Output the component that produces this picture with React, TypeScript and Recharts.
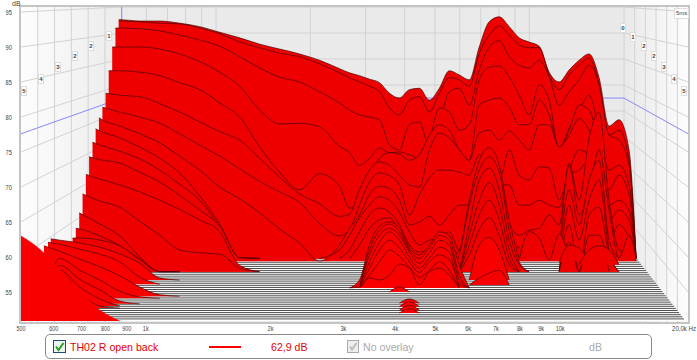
import { ComposedChart, Area, XAxis, YAxis } from "recharts";

const _ = null;

// frequency columns shared by every slice (Hz), read along the front axis
const freqs = [
  555, 620, 693, 775, 866, 967, 1081, 1207, 1350, 1508, 1685, 1883, 2103, 2350, 2626, 2934,
  3102, 3279, 3466, 3664, 3873, 4093, 4327, 4574, 4835, 5111,
  5402, 5710, 6036, 6380, 6744, 7129, 7535, 7965, 8420, 8900,
  9408, 9945, 10512, 11112, 11746, 12416, 13124, 13873, 14664,
];

const tickFreqs = [500, 600, 700, 800, 900, 1000, 2000, 3000, 4000, 5000, 6000, 7000, 8000, 9000, 10000, 20000];
const tickLabels = ["500", "600", "700", "800", "900", "1k", "2k", "3k", "4k", "5k", "6k", "7k", "8k", "9k", "10k", "20,0k Hz"];
const dbTicks = [55, 60, 65, 70, 75, 80, 85, 90, 95];
const backGridFreqs = [600, 700, 800, 900, 1000, 2000, 3000, 4000, 5000, 6000, 7000, 8000, 9000, 10000];

// back to front, dB as read against the axis
const s0 = [_, _, _, _, 93.9, 93.7, 93.7, 93.4, 92.9, 92.1, 91.3, 90.4, 89.7, 89, 88.1, 86.9,
  86.3, 85.9, 85.4, 84.9, 83.4, 82.7, 83.9, 84.1, 82.4, 84.1, 86.6, 86, 85.3, 90, 93.6, 94.3, 92.9, 91.3, 90.7, 90.1,
  86.4, 85, 86.7, 88.1, 89, 85.6, 78.7, 79.6, 75.3];
const sb = [_, _, _, _, 93.7, 93.6, 93.4, 93.3, 92.7, 91.9, 90.7, 89.9, 89.1, 88.6, 87.6, 86.3,
  85.6, 85, 84.4, 83.6, 81.3, 80.3, 82.4, 82.9, 80.7, 83.4, 85.6, 85.3, 84.4, 89.1, 91.7, 93, 91.7, 90.3, 89.9, 89.9,
  86, 83.9, 86, 87.4, 88.4, 84.6, 77.4, 78.1, 73.9];
const s1 = [_, _, _, _, 92.7, 92.6, 92.3, 91.7, 91, 90.1, 88.6, 87, 85.7, 85, 83.6, 82,
  81, 80.3, 80, 79.6, 76, 75.3, 78.9, 79.3, 75.6, 78.9, 83.6, 84.1, 81.7, 86.7, 90, 90.9, 88.6, 87.4, 87, 88.1,
  85.7, 81.7, 83.6, 85.3, 87.4, 84.6, 77.4, 76.7, 73.1];
const s2 = [_, _, _, _, 90, 90, 89.7, 89, 87.9, 86.4, 84.4, 81, 79, 79.1, 78.6, 75.8,
  74.9, 73.1, 74.1, 75.6, 74.9, 75, 74.6, 74.1, 76.7, 81.3, 80.7, 78.1, 78.9, 85.3, 87.1, 87.3, 85.7, 83.1, 80.3, 84.6,
  82.4, 75.3, 78.4, 81, 83.1, 78.1, 72.4, 73.1, 70.3];
const s3 = [_, _, _, _, 86.6, 86.4, 85.9, 84.9, 83.9, 82, 80, 75.7, 72.1, 69.6, 71.9, 70.1,
  67, 67.4, 71.3, 74.1, 74.9, 74.7, 73.8, 74.6, 77.4, 78.9, 78.1, 75.3, 73.8, 81.7, 82.4, 82.7, 81.4, 78.9, 78.9, 82.4,
  80.3, 75.7, 78.1, 81.7, 81, 76, 69.6, 71.7, 68.9];
const s4 = [_, _, _, _, 83.1, 82.9, 81.9, 80.7, 79.3, 77.9, 76.7, 74.1, 71.4, 69, 67.6, 65.8,
  66.1, 69.6, 72.4, 73.6, 73.1, 71.7, 70.3, 70, 75.3, 77.7, 77, 75.3, 73.8, 77.7, 78.1, 76.7, 78, 76.7, 75.3, 78.9,
  78.9, 75.7, 77.4, 79.8, 78.1, 74.6, 67.4, 68.1, 66.7];
const s5 = [_, _, _, _, 80.7, 80, 79.1, 77.6, 76, 74.4, 72.6, 70.8, 69.3, 67.8, 64.8, 63,
  63.9, 67.4, 70.7, 72, 71.6, 70.3, 66, 68.9, 71.3, 72.4, 72.4, 72.1, 71.7, 74.6, 72.4, 71, 75.3, 71.7, 71, 72.9,
  72.7, 68.1, 72.4, 75.3, 74.6, 73.1, 65.3, 66.7, 65.3];
const s6 = [_, _, _, 79.8, 78.7, 77.6, 76.3, 74.4, 72.4, 70, 68.3, 66.3, 64, 62, 59.4, 61.7,
  64.1, 66, 68.9, 70.1, 69.8, 68.1, 64.6, 65, 65.8, 64.6, 66, 67.4, 67.4, 71.7, 71.3, 70.3, 70.3, 67.4, 67.4, 68.1,
  67.4, 67.1, 71.7, 72.4, 73.8, 71, 62.4, 64.6, 62.7];
const s7 = [_, _, _, 78, 77, 75.7, 74.1, 72, 68.7, 64.7, 59.9, _, _, _, _, 61,
  63.1, 65.6, 67.4, 68.6, 68.1, 66.4, 63.6, 61.7, 62.4, 62.8, 63.6, 61, 63.8, 69.6, 71, 68.1, 64.6, 63.1, 63.8, 64.1,
  66, 64.6, 73.4, 68.1, 77, 80.7, 68.1, 61, 60.3];
const s8 = [_, _, _, 76, 75.1, 74, 72.4, 70.4, 68.1, 64.3, 59.9, _, _, _, _, _,
  61, 63.6, 66, 67, 66.4, 64.6, 61.7, 60.7, 61, 61.4, 61.7, 60.3, 63.1, 68.1, 69.6, 66.7, 62.4, 61.3, _, _,
  _, _, 73.1, 66, 69.6, 75.3, 66.7, 59.9, 63.1];
const s9 = [_, _, _, 73.9, 73.4, 72.1, 70.7, 68.8, 66.7, 64.4, 59.9, _, _, _, _, _,
  _, 61.7, 64.1, 65.3, 65.6, 63.6, 61, _, _, _, _, 61, 68.1, 73.8, 75.6, 73.1, 65.3, _, _, _,
  _, _, 69.6, 64.6, 71, 73.8, 62.4];
const s10 = [_, _, _, 71.1, 70.3, 69.3, 68.1, 66.8, 65.3, 63.6, 58.8, _, _, _, _, _,
  _, _, _, _, _, _, _, _, _, _, _, 60.3, 67.4, 72.4, 74.3, 72.1, 63.9, 59.3, _, _,
  _, _, 67.4, 62.4, 68.1, 71, 61];
const s11 = [_, _, _, 68, 67.1, 65.1, 63.1, 61, 60.6, 60.4, 58.4, _, _, _, _, _,
  _, _, _, _, _, _, _, _, _, _, _, _, 64.6, 71, 72.7, 69.6, 62.4, 58.9, _, _,
  _, _, 64.6, _, 66, 67.1, 60.3];
const s12 = [_, _, 66.1, 64.7, 63, 60, 57.9, _, _, _, _, _, _, _, _, _,
  _, _, _, _, _, _, _, _, _, _, _, _, 63.1, 68.1, 70.6, 67.4, 61, _, _, _,
  _, _, 62.1, _, 63.1, 63.1];
const s13 = [_, _, 64, 63, 61.6, 59.7, 57.9, _, _, _, _, _, _, _, _, _,
  _, _, _, _, _, _, _, _, _, _, _, _, 61.7, 66, 68.1, 65.3, 59.8];
const s14 = [_, _, 62.7, 62.4, 61.6, 59.6, 57.9, _, _, _, _, _, _, _, _, _,
  _, _, _, _, _, _, _, _, _, _, _, _, 60.3, 63.9, 65.6, 63.1, 58.9];
// humps that stand on the floor at the right
const r1 = [_, _, _, _, _, _, _, _, _, _, _, _, _, _, _, _,
  _, _, _, _, _, _, _, _, _, _, _, _, _, _, _, _, _, _, 63.6, 62.7, _, 63.3];
const r2 = [_, _, _, _, _, _, _, _, _, _, _, _, _, _, _, _,
  _, _, _, _, _, _, _, _, _, _, _, _, _, _, _, _, _, _, _, _, _, _, 61.7, 61.3];
const r3 = [_, _, _, _, _, _, _, _, _, _, _, _, _, _, _, _,
  _, _, _, _, _, _, _, _, _, _, _, _, _, _, _, _, _, _, _, _, _, _, _, _, 61, 61.6, 61];
// nested humps around 4k - 5k
const h1 = [_, _, _, _, _, _, _, _, _, _, _, _, _, _, _, _,
  _, 56.7, 61.7, 64.4, 65, 64.1, 61.3, 60.3, 61.7, 63.6, 63, 58.8];
const h2 = [_, _, _, _, _, _, _, _, _, _, _, _, _, _, _, _,
  _, _, 61, 63.8, 64.7, 63.6, 61, 59.8, 61.3, 63.1, 62.4, 57.4];
const h3 = [_, _, _, _, _, _, _, _, _, _, _, _, _, _, _, _,
  _, _, 60.3, 63.1, 64.1, 63.1, 60.7, 59.1, 60.6, 62.4, 61.7, 56.7];
const h4 = [_, _, _, _, _, _, _, _, _, _, _, _, _, _, _, _,
  _, _, 59.3, 62.1, 63.6, 62.4, 60, 58.4, 59.8, 61.4, 60.7, 56.1];
const h5 = [_, _, _, _, _, _, _, _, _, _, _, _, _, _, _, _,
  _, _, 58.4, 61, 62.4, 61.3, 59.3, 57.8, 59.3, 60.3, 59.6];
const h6 = [_, _, _, _, _, _, _, _, _, _, _, _, _, _, _, _,
  _, _, 57.4, 59.3, 61, 60.1, 58.6, 57.1, 58.1, 59.3, 58.1];
const h7 = [_, _, _, _, _, _, _, _, _, _, _, _, _, _, _, _,
  _, 55.7, 57, 56.7, 57.4, 59, 58.4, 56, 57.9, 58.4, 57.4];
// front humps around 7k
const h8 = [_, _, _, _, _, _, _, _, _, _, _, _, _, _, _, _,
  _, _, _, _, _, _, _, _, _, _, _, _, _, 61.7, 62.8, 61];
const h9 = [_, _, _, _, _, _, _, _, _, _, _, _, _, _, _, _,
  _, _, _, _, _, _, _, _, _, _, _, _, _, 57, 57.7, 58.1];
// tiny bumps on the floor near 4.3k
const q0 = [_, _, _, _, _, _, _, _, _, _, _, _, _, _, _, _, _, _, _, _, _, 55.7];
const q1 = [_, _, _, _, _, _, _, _, _, _, _, _, _, _, _, _, _, _, _, _, _, _, 54];
const q2 = [_, _, _, _, _, _, _, _, _, _, _, _, _, _, _, _, _, _, _, _, _, _, 53.6];
const q3 = [_, _, _, _, _, _, _, _, _, _, _, _, _, _, _, _, _, _, _, _, _, _, 53.1];
const q4 = [_, _, _, _, _, _, _, _, _, _, _, _, _, _, _, _, _, _, _, _, _, _, 52.6];
// front slices, low end only
const f1 = [_, 62.4, 62, 61.4, 60.4, 59.1, 57];
const f2 = [_, 61.8, 61.1, 60.4, 59.3, 57.1];
const f3 = [_, 60.8, 59.7, 58.6, 57.3, 55.7, 54.6];
const f4 = [_, 59.8, 58.1, 56.7, 55.1, 54.3];
const f5 = [_, 58.8, 56.8, 55.3, 53.7];
const f6 = [_, 58.1, 55.7, 54];
const f7 = [_, 57.7, 54.8, 53];
const f8 = [_, 57.3, 54.1];
const front = [61.1, 58.1, 55, 52.4];

const sliceValues = [s0, sb, s1, s2, s3, s4, s5, s6, s7, s8, s9, s10, s11, s12, s13, s14, r1, r2, r3,
  h1, h2, h3, h4, h5, h6, h7, h8, h9, q0, q1, q2, q3, q4, f1, f2, f3, f4, f5, f6, f7, f8, front];
const sliceBases = [59.8, 59.8, 59.8, 59.8, 59.8, 59.8, 59.8, 59.4, 59.8, 59.8, 59.8, 57.9, 57.9, 57.9, 57.9, 57.9, 59.6, 59.3, 58.9,
  55.6, 55.6, 55.6, 55.6, 55.6, 55.6, 55.6, 56.7, 56, 55, 53.4, 52.9, 52.4, 52, 56.7, 56.1, 54.4, 54.1, 53.3, 53, 52.7, 52.1, 50.85];
const sliceStartHz = [861, 861, 845, 830, 814, 800, 786, 771, 757, 744, 730, 717, 704, 691, 678, 666, _, _, _,
  _, _, _, _, _, _, _, _, _, _, _, _, _, _, 590, 581, 568, 552, 552, 552, 552, 552, 500];
const sliceStartDb = [93.9, 93.8, 92.7, 90, 86.6, 83.4, 81.4, 79.9, 78.3, 76.4, 74.3, 71.8, 69, 66.3, 64.1, 62.7, _, _, _,
  _, _, _, _, _, _, _, _, _, _, _, _, _, _, 62.6, 62.1, 61.6, 61.1, 61.1, 61.1, 61.1, 61.1, 63];

const RIGHT_END_HZ = 15250;
const STRIPES = 30;

const rowsFor = (i: number) => {
  const values = sliceValues[i];
  const base = sliceBases[i];
  const start = sliceStartHz[i];
  const rows: { hz: number; db: number | null }[] = [];
  if (start != null) rows.push({ hz: start, db: sliceStartDb[i] });
  freqs.forEach((hz, k) => {
    if (start != null && hz <= start * 1.005) return;
    const v = values[k] ?? null;
    const touching = (values[k - 1] ?? null) != null || (values[k + 1] ?? null) != null;
    rows.push({ hz, db: v != null ? v : touching ? base : null });
  });
  if (values[freqs.length - 1] != null) rows.push({ hz: RIGHT_END_HZ, db: base });
  return rows;
};

// room geometry: the back wall is the front axis squeezed towards the centre
const BACK_LEFT = 875;
const BACK_RIGHT = 14260;
const RIGHT_EDGE = 20350;
const TOP_DB = 95.71;
const BOTTOM_DB = 50.71;
const backHz = (f: number) => BACK_LEFT * Math.pow(f / 500, 0.756);
const backDb = (d: number) => TOP_DB - (95 - d) * 0.743;
const between = (a: number, b: number, t: number) => a * Math.pow(b / a, t);

const gridSegments: { hz: number; db: number }[][] = [];
backGridFreqs.forEach((f) => gridSegments.push([{ hz: backHz(f), db: TOP_DB }, { hz: backHz(f), db: 60 }]));
dbTicks.forEach((d) => {
  gridSegments.push([{ hz: 500, db: d }, { hz: BACK_LEFT, db: backDb(d) }]);
  gridSegments.push([{ hz: BACK_LEFT, db: backDb(d) }, { hz: BACK_RIGHT, db: backDb(d) }]);
  gridSegments.push([{ hz: BACK_RIGHT, db: backDb(d) }, { hz: RIGHT_EDGE, db: d }]);
});
[1, 2, 3, 4, 5, 6].forEach((k) => {
  const l = between(500, BACK_LEFT, k / 6);
  const r = between(BACK_RIGHT, RIGHT_EDGE, (k - 1) / 6);
  gridSegments.push([{ hz: l, db: TOP_DB }, { hz: l, db: BOTTOM_DB }]);
  gridSegments.push([{ hz: r, db: TOP_DB }, { hz: r, db: BOTTOM_DB }]);
});

const blueSegments = [
  [{ hz: BACK_LEFT, db: TOP_DB }, { hz: BACK_LEFT, db: 90 }],
  [{ hz: 500, db: 77.6 }, { hz: BACK_LEFT, db: 82.7 }],
  [{ hz: BACK_LEFT, db: 82.7 }, { hz: BACK_RIGHT, db: 82.7 }],
  [{ hz: BACK_RIGHT, db: 82.7 }, { hz: RIGHT_EDGE, db: 77.6 }],
];

const stripes = Array.from({ length: STRIPES }, (_v, i) => {
  const t = i / (STRIPES - 1);
  return {
    db: 59.85 - t * 8.7,
    rows: [
      { hz: between(861, 500, t), db: 59.85 - t * 8.7 },
      { hz: between(RIGHT_END_HZ, 19900, t), db: 59.85 - t * 8.7 },
    ],
  };
});

const depthLeft = [["1", 106, 31], ["2", 88, 41], ["2", 72, 51], ["3", 55, 62], ["4", 38, 74], ["5", 21, 86]];
const depthRight = [["0", 620, 23], ["1", 630, 32], ["2", 641, 41], ["2", 651, 51], ["3", 661, 62], ["4", 671, 74], ["5", 681, 86]];

const sans = "'Liberation Sans', Arial, sans-serif";

function XTick({ x, y, payload }: any) {
  const label = tickLabels[tickFreqs.indexOf(payload.value)] ?? "";
  const last = label.length > 4;
  return (
    <text
      x={last ? 696 : x}
      y={y + 3}
      textAnchor={last ? "end" : "middle"}
      fontSize={7}
      fontFamily={sans}
      fill="#444"
      textLength={label.length * 3}
      lengthAdjust="spacingAndGlyphs"
    >
      {label}
    </text>
  );
}

function YTick({ x, y, payload }: any) {
  return (
    <text x={x} y={y + 3.5} textAnchor="end" fontSize={7} fontFamily={sans} fill="#444" textLength={6.4} lengthAdjust="spacingAndGlyphs">
      {payload.value}
    </text>
  );
}

function DepthLabel({ text, x, y }: { text: string; x: number; y: number }) {
  return (
    <div
      style={{
        position: "absolute", left: x, top: y, width: 4, height: 8, background: "#fff", border: "1px solid #ddd",
        font: `bold 6px/8px ${sans}`, color: "#444", textAlign: "center",
      }}
    >
      {text}
    </div>
  );
}

export default function App() {
  return (
    <div style={{ position: "absolute", left: 0, top: 0, width: 697, height: 360, background: "#fff", overflow: "hidden" }}>
      <div
        style={{
          position: "absolute", left: 21, top: 7, width: 667, height: 315,
          background: "linear-gradient(90deg,#fdfdfd 0,#ebebeb 101px,#e9e9e9 604px,#fdfdfd 667px)",
        }}
      />
      <ComposedChart width={697} height={360} margin={{ top: 7, right: 9, bottom: 0, left: 0 }} style={{ position: "absolute", left: 0, top: 0 }}>
        <XAxis
          dataKey="hz"
          type="number"
          scale="log"
          domain={[500, RIGHT_EDGE]}
          allowDataOverflow
          ticks={tickFreqs}
          interval={0}
          height={38}
          axisLine={false}
          tickLine={false}
          tickMargin={0}
          tick={<XTick />}
        />
        <YAxis
          type="number"
          domain={[BOTTOM_DB, TOP_DB]}
          allowDataOverflow
          ticks={dbTicks}
          interval={0}
          width={21}
          axisLine={false}
          tickLine={false}
          tickMargin={3}
          tick={<YTick />}
        />
        {gridSegments.map((seg, i) => (
          <Area key={"g" + i} data={seg} dataKey="db" type="linear" stroke="#d2d2d2" strokeWidth={1} fill="none" dot={false} activeDot={false} isAnimationActive={false} />
        ))}
        {blueSegments.map((seg, i) => (
          <Area key={"b" + i} data={seg} dataKey="db" type="linear" stroke="#8888ff" strokeWidth={1} fill="none" dot={false} activeDot={false} isAnimationActive={false} />
        ))}
        {stripes.map((st, i) => (
          <Area
            key={"st" + i}
            data={st.rows}
            dataKey="db"
            type="linear"
            baseValue={st.db - 0.3}
            stroke="#000"
            strokeWidth={0.7}
            fill="#fff"
            fillOpacity={1}
            dot={false}
            activeDot={false}
            isAnimationActive={false}
          />
        ))}
        {sliceValues.map((_s, i) => (
          <Area
            key={"s" + i}
            data={rowsFor(i)}
            dataKey="db"
            type="monotoneX"
            baseValue={sliceBases[i]}
            stroke={i === sliceValues.length - 1 ? "#ff0000" : "#4a0000"}
            strokeWidth={0.7}
            fill={i >= 19 ? "#f90000" : "#ee0000"}
            fillOpacity={1}
            connectNulls={false}
            dot={false}
            activeDot={false}
            isAnimationActive={false}
          />
        ))}
      </ComposedChart>

      <div style={{ position: "absolute", left: 19, top: 5, width: 667, height: 315, border: "2px solid #c4c4c4", pointerEvents: "none" }} />
      <div style={{ position: "absolute", left: 12, top: -1, font: `7px/9px ${sans}`, color: "#444" }}>dB</div>
      <div style={{ position: "absolute", left: 674, top: 8, padding: "0 1px", background: "#fff", border: "1px solid #ddd", font: `6px/9px ${sans}`, color: "#444" }}>5ms</div>
      {depthLeft.map(([t, x, y], i) => <DepthLabel key={"l" + i} text={t as string} x={x as number} y={y as number} />)}
      {depthRight.map(([t, x, y], i) => <DepthLabel key={"r" + i} text={t as string} x={x as number} y={y as number} />)}

      <div style={{ position: "absolute", left: 45, top: 334, width: 605, height: 23, border: "1px solid #888", borderRadius: 5, background: "#fff", font: `10.6px/24px ${sans}` }}>
        <div style={{ position: "absolute", left: 7, top: 5, width: 11, height: 11, border: "1px solid #1c4a7a", background: "#eef2ee" }}>
          <svg width="11" height="11" style={{ display: "block" }}><path d="M2 5.5 L4.5 9 L9.5 2" stroke="#22a022" strokeWidth="2" fill="none" /></svg>
        </div>
        <div style={{ position: "absolute", left: 24, top: 0, color: "#e80000" }}>TH02 R open back</div>
        <div style={{ position: "absolute", left: 163, top: 11, width: 32, height: 2, background: "#ff0000" }} />
        <div style={{ position: "absolute", left: 225, top: 0, color: "#e80000" }}>62,9 dB</div>
        <div style={{ position: "absolute", left: 301, top: 5, width: 10, height: 11, border: "1px solid #aaa", background: "#eee" }}>
          <svg width="10" height="11" style={{ display: "block" }}><path d="M2 5.5 L4 8.5 L8.5 2" stroke="#bbb" strokeWidth="2" fill="none" /></svg>
        </div>
        <div style={{ position: "absolute", left: 317, top: 0, color: "#aaa" }}>No overlay</div>
        <div style={{ position: "absolute", left: 543, top: 0, color: "#aaa" }}>dB</div>
      </div>
    </div>
  );
}
